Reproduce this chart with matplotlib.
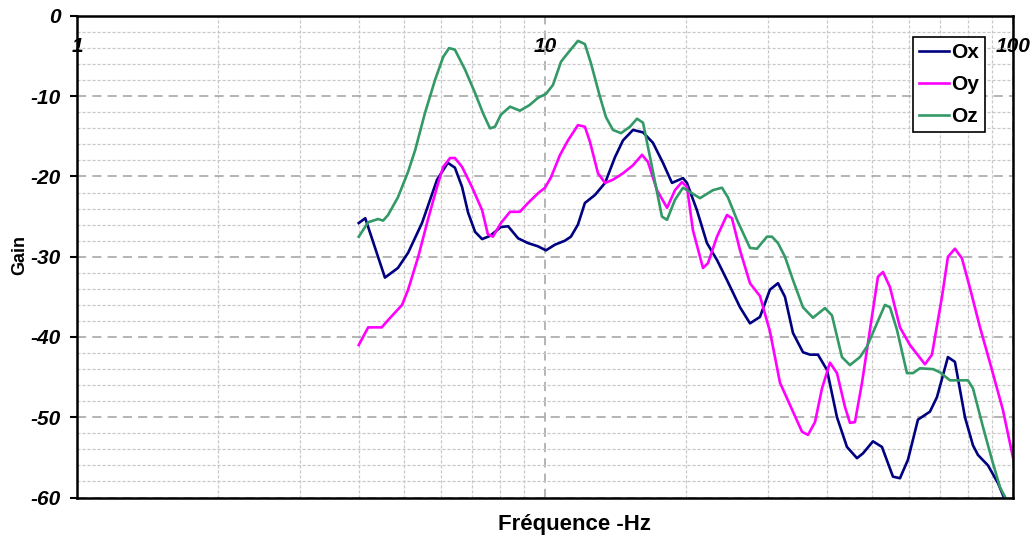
import matplotlib
matplotlib.use('Agg')
import matplotlib.pyplot as plt
from matplotlib.ticker import MultipleLocator, LogLocator, FixedFormatter, FixedLocator

plt.rcParams['font.family'] = ['Liberation Sans', 'DejaVu Sans']
plt.rcParams['axes.unicode_minus'] = False

# frequency (Hz) / gain (dB)
ox_f = [4.0, 4.13, 4.55, 4.85, 5.10, 5.46, 5.88, 6.20, 6.42, 6.65, 6.85, 7.09, 7.34, 7.63,
        8.05, 8.34, 8.76, 9.20, 9.66, 10.05, 10.5, 11.03, 11.36, 11.76, 12.17, 12.79, 13.44,
        14.11, 14.68, 15.42, 16.20, 17.01, 17.87, 18.68, 19.72, 20.11, 21.12, 22.19, 23.31,
        24.48, 26.11, 27.42, 28.80, 30.25, 31.47, 32.57, 33.88, 35.59, 36.84, 38.31, 40.05,
        42.07, 44.19, 46.42, 47.81, 50.22, 52.49, 55.41, 57.35, 59.65, 62.66, 66.47, 68.80,
        72.62, 75.17, 78.97, 82.14, 84.19, 88.44, 92.88, 95.19, 96.5]
ox_g = [-25.8, -25.2, -32.6, -31.4, -29.5, -25.8, -20.4, -18.3, -18.9, -21.3, -24.5, -26.9,
        -27.8, -27.4, -26.3, -26.2, -27.7, -28.3, -28.7, -29.2, -28.5, -28.0, -27.5, -26.0,
        -23.3, -22.3, -20.8, -17.6, -15.5, -14.2, -14.5, -15.8, -18.3, -20.8, -20.2, -20.8,
        -24.2, -28.3, -30.4, -32.9, -36.3, -38.3, -37.5, -34.1, -33.3, -35.0, -39.5, -41.9,
        -42.2, -42.2, -44.1, -50.0, -53.7, -55.1, -54.5, -53.0, -53.7, -57.4, -57.6, -55.3,
        -50.3, -49.3, -47.5, -42.5, -43.1, -50.0, -53.5, -54.7, -56.0, -58.2, -59.7, -60.5]

oy_f = [4.0, 4.19, 4.48, 4.62, 4.95, 5.10, 5.36, 5.62, 5.88, 6.06, 6.27, 6.42, 6.65, 6.98,
        7.34, 7.55, 7.74, 8.05, 8.42, 8.84, 9.20, 9.66, 10.0, 10.30, 10.77, 11.20, 11.76,
        12.17, 12.48, 12.98, 13.44, 13.97, 14.68, 15.42, 16.12, 16.60, 17.35, 18.23, 18.96,
        19.62, 20.11, 20.71, 21.76, 22.30, 23.31, 24.48, 25.09, 26.11, 27.42, 28.80, 30.25,
        31.78, 33.88, 35.41, 36.48, 37.76, 39.08, 40.64, 42.07, 43.75, 44.84, 45.96, 47.58,
        49.48, 51.46, 52.76, 54.61, 57.35, 60.25, 63.28, 64.86, 67.13, 70.52, 72.62, 75.17,
        77.80, 80.94, 85.03, 89.30, 95.19, 100.0]
oy_g = [-41.0, -38.8, -38.8, -37.9, -36.0, -34.1, -30.0, -25.4, -21.3, -18.8, -17.7, -17.7,
        -18.8, -21.3, -24.2, -27.2, -27.5, -25.8, -24.4, -24.4, -23.3, -22.1, -21.4, -20.1,
        -17.3, -15.5, -13.6, -13.8, -15.7, -19.6, -20.8, -20.4, -19.6, -18.6, -17.3, -18.2,
        -21.7, -23.9, -21.7, -20.7, -21.3, -26.7, -31.4, -30.8, -27.5, -24.8, -25.2, -29.2,
        -33.3, -34.9, -39.3, -45.7, -49.3, -51.8, -52.2, -50.6, -46.4, -43.2, -44.5, -48.7,
        -50.7, -50.6, -45.7, -39.1, -32.5, -31.9, -33.8, -38.8, -41.0, -42.6, -43.4, -42.2,
        -35.0, -30.0, -29.0, -30.2, -33.9, -38.8, -43.2, -49.1, -55.0]

oz_f = [4.0, 4.19, 4.40, 4.51, 4.62, 4.85, 5.10, 5.28, 5.54, 5.82, 6.06, 6.24, 6.42, 6.75,
        7.09, 7.37, 7.63, 7.82, 8.05, 8.42, 8.84, 9.27, 9.66, 10.05, 10.40, 10.82, 11.20,
        11.76, 12.17, 12.54, 13.11, 13.50, 13.97, 14.54, 15.19, 15.73, 16.20, 16.93, 17.78,
        18.23, 18.96, 19.72, 21.44, 22.86, 23.89, 24.60, 25.72, 27.42, 28.38, 29.81, 30.55,
        31.47, 32.57, 33.88, 35.59, 37.38, 39.66, 41.04, 43.11, 44.84, 47.11, 48.75, 51.21,
        53.27, 54.61, 56.51, 59.36, 61.14, 63.28, 67.47, 69.82, 73.34, 75.90, 80.14, 82.14,
        86.28, 90.19, 93.8, 96.1, 97.6]
oz_g = [-27.5, -25.7, -25.3, -25.5, -24.8, -22.6, -19.4, -16.7, -12.1, -8.0, -5.1, -4.0,
        -4.2, -6.7, -9.6, -12.1, -14.0, -13.8, -12.3, -11.3, -11.8, -11.1, -10.2, -9.7, -8.6,
        -5.7, -4.6, -3.1, -3.5, -5.9, -10.1, -12.6, -14.2, -14.6, -13.8, -12.8, -13.3, -18.8,
        -25.0, -25.4, -22.9, -21.4, -22.7, -21.7, -21.4, -22.6, -25.4, -28.9, -29.0, -27.5,
        -27.5, -28.3, -30.0, -32.9, -36.3, -37.6, -36.4, -37.3, -42.5, -43.5, -42.5, -41.2,
        -38.3, -36.0, -36.3, -39.1, -44.5, -44.5, -43.9, -44.0, -44.4, -45.4, -45.4, -45.4,
        -46.4, -51.2, -55.3, -58.7, -59.9, -60.7]

series = ['Ox', 'Oy', 'Oz']
colors = ['#000080', '#FF00FF', '#339966']
x_ticks = [1, 10, 100]
x_labels = ['1', '10', '100']

fig = plt.figure(figsize=(10.35, 5.4), dpi=100)
ax = fig.add_axes([0.0744, 0.0787, 0.9043, 0.8917])

for f, g, name, c in zip([ox_f, oy_f, oz_f], [ox_g, oy_g, oz_g], series, colors):
    ax.plot(f, g, color=c, lw=1.9, label=name, solid_joinstyle='round')

ax.set_xscale('log')
ax.set_xlim(1, 100)
ax.set_ylim(-60, 0)

ax.xaxis.set_major_locator(FixedLocator(x_ticks))
ax.xaxis.set_major_formatter(FixedFormatter(x_labels))
ax.xaxis.set_minor_locator(LogLocator(base=10, subs=range(2, 10)))
ax.yaxis.set_major_locator(MultipleLocator(10))
ax.yaxis.set_minor_locator(MultipleLocator(2))

ax.grid(which='major', ls=(0, (6, 4)), color='#a0a0a0', lw=1.1)
ax.grid(which='minor', ls=(0, (2.5, 1.5)), color='#c8c8c8', lw=0.9)
ax.set_axisbelow(True)

ax.tick_params(which='minor', length=0)
ax.tick_params(axis='x', which='major', length=0, top=True, bottom=False,
               labeltop=True, labelbottom=False, pad=-29)
ax.tick_params(axis='y', which='major', length=5, width=1.5, direction='out', pad=7)
for lab in ax.get_xticklabels() + ax.get_yticklabels():
    lab.set_fontsize(15)
    lab.set_fontweight('bold')
    lab.set_fontstyle('italic')

for s in ax.spines.values():
    s.set_linewidth(1.8)
    s.set_color('black')

ax.set_xlabel('Fréquence -Hz', fontsize=16, fontweight='bold', va='center')
ax.xaxis.set_label_coords(0.532, -0.057)
ax.set_ylabel('Gain', fontsize=13, fontweight='bold', va='center')
ax.yaxis.set_label_coords(-0.061, 0.504)

leg = ax.legend(loc='upper right', bbox_to_anchor=(0.970, 0.956), borderaxespad=0,
                fancybox=False, framealpha=1, edgecolor='black',
                prop={'weight': 'bold', 'size': 15}, handlelength=1.44,
                handletextpad=0.12, labelspacing=0.62, borderpad=0.28)
leg.get_frame().set_linewidth(1.2)

fig.savefig('out.png', dpi=100)
